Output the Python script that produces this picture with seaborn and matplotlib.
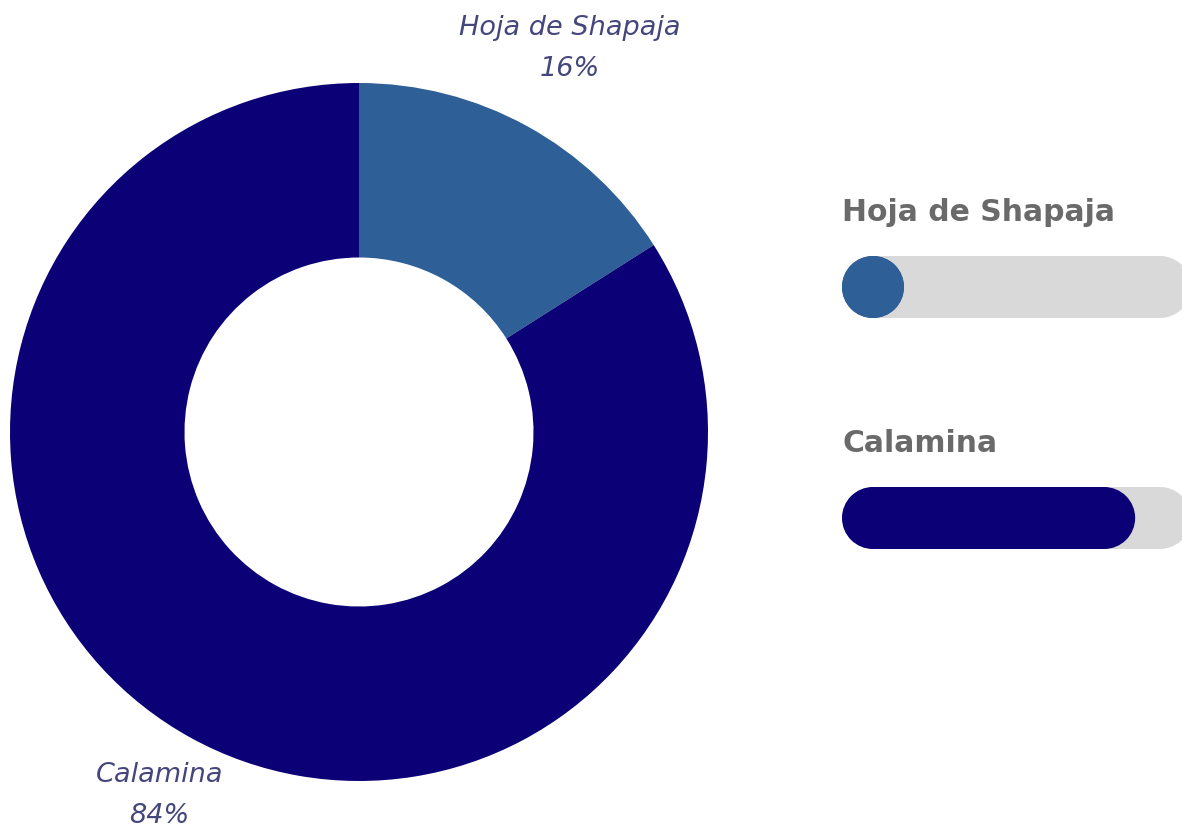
import matplotlib
matplotlib.use("Agg")
import matplotlib.pyplot as plt
from matplotlib.patches import Rectangle, Circle
import seaborn as sns

# Composition of the material, in percent
categories = ["Hoja de Shapaja", "Calamina"]
shares = [16, 84]
pct_labels = ["16%", "84%"]

sns.set_theme(style="white")
plt.rcParams["font.family"] = ["DejaVu Sans"]

palette = sns.color_palette(["#2e5f96", "#0b0075"])
label_color = "#44467c"
title_color = "#6a6a6a"
track_color = "#d9d9d9"

W, H = 1182, 830
fig = plt.figure(figsize=(W / 100, H / 100), dpi=100)
fig.patch.set_facecolor("white")

# Donut chart
cx, cy, R = 359, 432, 349
ax_pie = fig.add_axes([(cx - R) / W, (H - cy - R) / H, 2 * R / W, 2 * R / H])
wedges, texts = ax_pie.pie(
    shares,
    colors=palette,
    startangle=90,
    counterclock=False,
    labels=[f"{c}\n{p}" for c, p in zip(categories, pct_labels)],
    labeldistance=1.0,
    wedgeprops=dict(width=0.5, linewidth=0),
)
# outside labels, each pushed out along its wedge's mid-angle
label_dist = [1.255, 1.187]
for t, k in zip(texts, label_dist):
    x, y = t.get_position()
    t.set_position((x * k, y * k))
    t.set_ha("center")
    t.set_va("center")
    t.set_fontsize(19.5)
    t.set_style("italic")
    t.set_color(label_color)
    t.set_linespacing(1.75)
    t.set_clip_on(False)
ax_pie.set_aspect("equal")
ax_pie.set_xlim(-1, 1)
ax_pie.set_ylim(-1, 1)

# Progress bars on the right, laid out in pixel units
ax_bar = fig.add_axes([0, 0, 1, 1])
ax_bar.set_xlim(0, W)
ax_bar.set_ylim(H, 0)
ax_bar.axis("off")


def pill(ax, x, yc, width, height, color):
    r = height / 2
    ax.add_patch(Rectangle((x + r, yc - r), max(width - 2 * r, 0), height,
                           facecolor=color, edgecolor="none"))
    ax.add_patch(Circle((x + r, yc), r, facecolor=color, edgecolor="none"))
    ax.add_patch(Circle((x + width - r, yc), r, facecolor=color, edgecolor="none"))


x0, track_w, bar_h = 842, 349, 62
first_center, row_gap = 287, 231
for i, (name, val) in enumerate(zip(categories, shares)):
    yc = first_center + i * row_gap
    ax_bar.text(x0, yc - 66, name, fontsize=21.5, fontweight="bold",
                color=title_color, ha="left", va="baseline")
    pill(ax_bar, x0, yc, track_w, bar_h, track_color)
    fill_w = max(val / 100 * track_w, bar_h)
    pill(ax_bar, x0, yc, fill_w, bar_h, palette[i])

fig.savefig("out.png", dpi=100, facecolor="white")
